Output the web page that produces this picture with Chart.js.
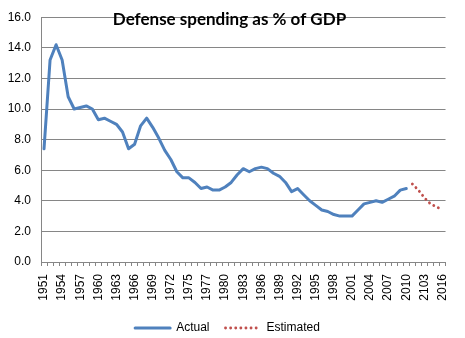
<!DOCTYPE html>
<html>
<head>
<meta charset="utf-8">
<script src="https://cdn.jsdelivr.net/npm/chart.js@4/dist/chart.umd.min.js"></script>
<style>
  html, body { margin: 0; padding: 0; background: #fff; }
  #wrap { width: 465px; height: 338px; }
</style>
</head>
<body>
<div id="wrap"><canvas id="defenseChart"></canvas></div>
<script>
// categories as printed on the axis ("TQ" = transition quarter, "2103" is the sheet's own typo)
var years = ['1951','1952','1953','1954','1955','1956','1957','1958','1959','1960',
  '1961','1962','1963','1964','1965','1966','1967','1968','1969','1970',
  '1971','1972','1973','1974','1975','1976','TQ','1977','1978','1979','1980',
  '1981','1982','1983','1984','1985','1986','1987','1988','1989','1990',
  '1991','1992','1993','1994','1995','1996','1997','1998','1999','2000',
  '2001','2002','2003','2004','2005','2006','2007','2008','2009','2010',
  '2011','2012','2103','2014','2015','2016'];

var actual = [7.4, 13.2, 14.2, 13.2, 10.8, 10.0, 10.1, 10.2, 10.0, 9.3,
  9.4, 9.2, 9.0, 8.5, 7.4, 7.7, 8.9, 9.4, 8.8, 8.1,
  7.3, 6.7, 5.9, 5.5, 5.5, 5.2, 4.8, 4.9, 4.7, 4.7, 4.9,
  5.2, 5.7, 6.1, 5.9, 6.1, 6.2, 6.1, 5.8, 5.6, 5.2,
  4.6, 4.8, 4.4, 4.0, 3.7, 3.4, 3.3, 3.1, 3.0, 3.0,
  3.0, 3.4, 3.8, 3.9, 4.0, 3.9, 4.1, 4.3, 4.7, 4.8,
  null, null, null, null, null, null];

var estimated = [null, null, null, null, null, null, null, null, null, null,
  null, null, null, null, null, null, null, null, null, null,
  null, null, null, null, null, null, null, null, null, null, null,
  null, null, null, null, null, null, null, null, null, null,
  null, null, null, null, null, null, null, null, null, null,
  null, null, null, null, null, null, null, null, null, null,
  5.1, 4.7, 4.2, 3.8, 3.6, 3.4];

var yTicks = [0, 2, 4, 6, 8, 10, 12, 14, 16];
var chartTitle = 'Defense spending as % of GDP';

var axisFont = { family: "'Liberation Sans', Arial, sans-serif", size: 12 };

// title sits inside the plot area, like the Excel original
var innerTitle = {
  id: 'innerTitle',
  afterDatasetsDraw: function (chart) {
    var ctx = chart.ctx;
    ctx.save();
    ctx.font = "bold 17px Lato, 'Open Sans', sans-serif";
    ctx.fillStyle = '#000';
    ctx.textAlign = 'center';
    ctx.textBaseline = 'alphabetic';
    ctx.fillText(chartTitle, chart.width / 2 - 3, 25);
    ctx.restore();
  }
};

new Chart(document.getElementById('defenseChart'), {
  type: 'line',
  data: {
    labels: years,
    datasets: [
      {
        label: 'Actual',
        data: actual,
        borderColor: '#4F81BD',
        backgroundColor: '#4F81BD',
        borderWidth: 3,
        borderJoinStyle: 'round',
        borderCapStyle: 'round',
        pointRadius: 0,
        tension: 0,
        spanGaps: false
      },
      {
        label: 'Estimated',
        data: estimated,
        borderColor: '#C0504D',
        backgroundColor: '#C0504D',
        borderWidth: 2.8,
        borderDash: [0.1, 5],
        borderCapStyle: 'round',
        pointRadius: 0,
        tension: 0
      }
    ]
  },
  options: {
    responsive: true,
    maintainAspectRatio: false,
    animation: false,
    layout: { padding: { top: 12, right: 10, left: 0, bottom: -6 } },
    plugins: {
      title: { display: false },
      tooltip: { enabled: false },
      legend: {
        position: 'bottom',
        labels: {
          usePointStyle: true,
          pointStyle: 'line',
          pointStyleWidth: 35,
          boxHeight: 12,
          padding: 16,
          color: '#000',
          font: axisFont,
          // point styles do not carry the dataset's dash, so copy it over
          generateLabels: function (chart) {
            var items = Chart.defaults.plugins.legend.labels.generateLabels(chart);
            items.forEach(function (item) {
              var ds = chart.data.datasets[item.datasetIndex];
              item.lineDash = ds.borderDash || [];
              item.lineCap = ds.borderCapStyle || 'butt';
              item.lineWidth = ds.borderWidth;
              item.strokeStyle = ds.borderColor;
            });
            return items;
          }
        }
      }
    },
    scales: {
      x: {
        offset: true,
        grid: {
          offset: true,
          drawOnChartArea: false,
          drawTicks: true,
          tickLength: 4,
          color: '#868686'
        },
        border: { color: '#868686' },
        ticks: {
          autoSkip: false,
          maxRotation: 90,
          minRotation: 90,
          padding: 8,
          color: '#000',
          font: axisFont,
          callback: function (val, idx) {
            return idx % 3 === 0 ? years[idx] : '';
          }
        },
        afterFit: function (scale) { scale.height = 44; }
      },
      y: {
        min: 0,
        max: 16,
        afterBuildTicks: function (scale) {
          scale.ticks = yTicks.map(function (v) { return { value: v }; });
        },
        grid: { color: '#868686', drawTicks: false },
        border: { color: '#868686' },
        ticks: {
          padding: 10,
          color: '#000',
          font: axisFont,
          callback: function (v) { return v.toFixed(1); }
        },
        afterFit: function (scale) { scale.width = 41; }
      }
    }
  },
  plugins: [innerTitle]
});
</script>
</body>
</html>
